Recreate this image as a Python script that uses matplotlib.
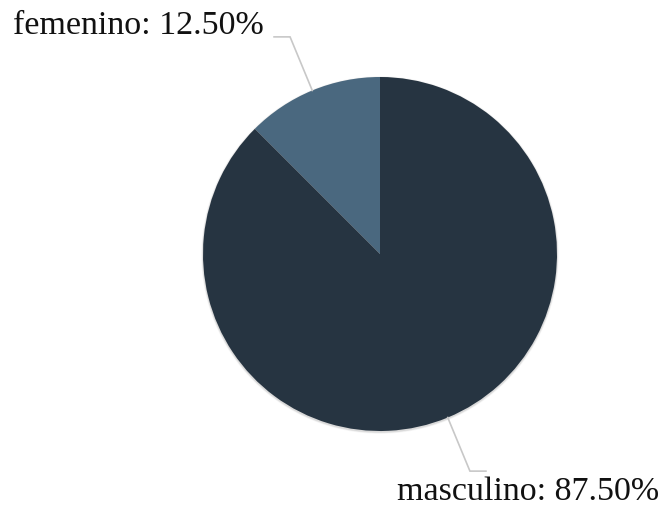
import numpy as np
import matplotlib
matplotlib.use("Agg")
import matplotlib.pyplot as plt

labels = ["femenino", "masculino"]
values = [12.5, 87.5]
colors = ["#4a687f", "#263441"]

W, H = 661, 512
fig = plt.figure(figsize=(W / 100, H / 100), dpi=100)
ax = fig.add_axes([0, 0, 1, 1])

cx, cy, r = 380, H - 254, 177

# soft drop shadow behind the pie
for k, a in zip(range(3, 0, -1), [0.03, 0.05, 0.07]):
    ax.add_patch(plt.Circle((cx, cy - 1), r + k * 0.6, color="black", alpha=a, lw=0))

wedges, _ = ax.pie(values, colors=colors, startangle=90, counterclock=True,
                   center=(cx, cy), radius=r, frame=True,
                   wedgeprops=dict(linewidth=0))
ax.set_xlim(0, W)
ax.set_ylim(0, H)
ax.set_aspect("equal")
ax.axis("off")

total = sum(values)
text_pos = {"femenino": (13, H - 26, "left"), "masculino": (659, H - 492, "right")}
for w, lab, v in zip(wedges, labels, values):
    mid = np.deg2rad((w.theta1 + w.theta2) / 2)
    dx, dy = np.cos(mid), np.sin(mid)
    p0 = (cx + r * dx, cy + r * dy)
    p1 = (cx + (r + 58) * dx, cy + (r + 58) * dy)
    side = -1 if dx < 0 else 1
    p2 = (p1[0] + side * 16, p1[1])
    ax.plot([p0[0], p1[0], p2[0]], [p0[1], p1[1], p2[1]], color="#c8c8c8", lw=1.2,
            solid_joinstyle="miter")
    tx, ty, ha = text_pos[lab]
    ax.text(tx, ty, f"{lab}: {v / total * 100:.2f}%", ha=ha, va="center",
            fontsize=24.5, family="Liberation Serif", color="#111111")

fig.savefig("out.png", dpi=100)
